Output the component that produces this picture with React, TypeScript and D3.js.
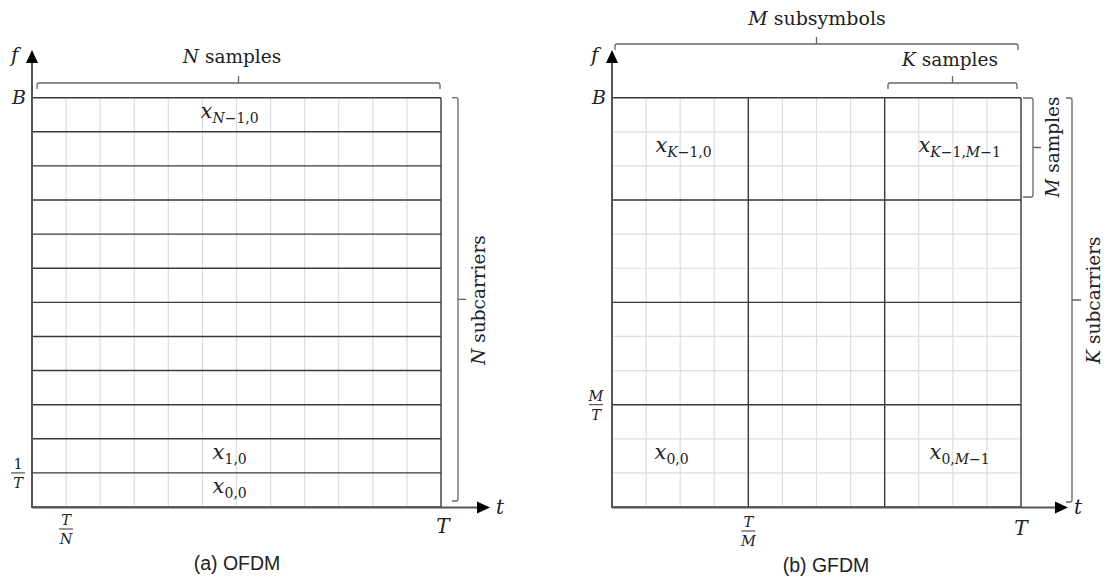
import React from 'react';
import * as d3 from 'd3';

// grid boundaries (in sample units) for both time–frequency planes
const sampleBounds = [0, 1, 2, 3, 4, 5, 6, 7, 8, 9, 10, 11, 12];
const ofdmSubcarrierBounds = [0, 1, 2, 3, 4, 5, 6, 7, 8, 9, 10, 11, 12];
const gfdmSubsymbolBounds = [0, 4, 8, 12];
const gfdmSubcarrierBounds = [0, 3, 6, 9, 12];

// cell labels: x_{sub}
const ofdmCells = [
  { col: 5.8, row: 11.5, sub: 'N−1,0' },
  { col: 5.8, row: 1.5, sub: '1,0' },
  { col: 5.8, row: 0.5, sub: '0,0' },
];
const gfdmCells = [
  { col: 2.1, row: 10.5, sub: 'K−1,0' },
  { col: 10.2, row: 10.5, sub: 'K−1,M−1' },
  { col: 1.75, row: 1.5, sub: '0,0' },
  { col: 10.2, row: 1.5, sub: '0,M−1' },
];

const W = 1113;
const H = 579;
const TOP = 97.7;
const BOTTOM = 507;
const SIZE = 409;

const serif = '"DejaVu Serif", serif';
const sans = '"Liberation Sans", Arial, sans-serif';
const dark = '#3a3a3a';
const light = '#dedede';
const braceColor = '#666';

const hBrace = (x1: number, x2: number, y: number, h = 6, tick = 7) => {
  const m = (x1 + x2) / 2;
  return `M${x1},${y + h} L${x1},${y + 2} Q${x1},${y} ${x1 + 2},${y} L${x2 - 2},${y} Q${x2},${y} ${x2},${y + 2} L${x2},${y + h} M${m},${y} L${m},${y - tick}`;
};

const vBrace = (x: number, y1: number, y2: number, w = 6, tick = 8) => {
  const m = (y1 + y2) / 2;
  return `M${x - w},${y1} L${x - 2},${y1} Q${x},${y1} ${x},${y1 + 2} L${x},${y2 - 2} Q${x},${y2} ${x - 2},${y2} L${x - w},${y2} M${x},${m} L${x + tick},${m}`;
};

// subscript with italic letters, upright digits
const Sub: React.FC<{ text: string }> = ({ text }) => (
  <>
    {text.split('').map((ch, i) => (
      <tspan key={i} fontStyle={/[A-Z]/.test(ch) ? 'italic' : 'normal'}>{ch}</tspan>
    ))}
  </>
);

const CellLabel: React.FC<{ x: number; y: number; sub: string }> = ({ x, y, sub }) => (
  <text x={x} y={y + 3} textAnchor="middle" fontFamily={serif} fill="#222">
    <tspan fontStyle="italic" fontSize={21}>x</tspan>
    <tspan fontSize={14} dy={5}><Sub text={sub} /></tspan>
  </text>
);

const Fraction: React.FC<{ x: number; y: number; num: string; den: string; numItalic?: boolean }> = ({ x, y, num, den, numItalic = true }) => (
  <g fontFamily={serif} fontSize={14.5} fill="#222" textAnchor="middle">
    <text x={x} y={y - 4} fontStyle={numItalic ? 'italic' : 'normal'}>{num}</text>
    <line x1={x - 7} x2={x + 7} y1={y} y2={y} stroke="#333" strokeWidth={1} />
    <text x={x} y={y + 15} fontStyle="italic">{den}</text>
  </g>
);

const Axes: React.FC<{ x0: number; tipX: number }> = ({ x0, tipX }) => (
  <g>
    <line x1={x0} x2={x0} y1={BOTTOM + 1} y2={62} stroke="#555" strokeWidth={2} />
    <path d={`M${x0 - 6},63 L${x0 + 6},63 L${x0},50 Z`} fill="#000" />
    <line x1={x0} x2={tipX - 12} y1={BOTTOM + 0.5} y2={BOTTOM + 0.5} stroke="#555" strokeWidth={2} />
    <path d={`M${tipX - 13},${BOTTOM - 5.5} L${tipX - 13},${BOTTOM + 6.5} L${tipX},${BOTTOM + 0.5} Z`} fill="#000" />
    <text x={x0 - 21} y={62} fontFamily={serif} fontStyle="italic" fontSize={20} fill="#222">f</text>
    <text x={tipX + 6} y={514} fontFamily={serif} fontStyle="italic" fontSize={20} fill="#222">t</text>
    <text x={x0 - 6} y={104} textAnchor="end" fontFamily={serif} fontStyle="italic" fontSize={19} fill="#222">B</text>
  </g>
);

const App: React.FC = () => {
  const xL = d3.scaleLinear().domain([0, 12]).range([32, 32 + SIZE]);
  const xR = d3.scaleLinear().domain([0, 12]).range([612, 612 + SIZE]);
  const y = d3.scaleLinear().domain([0, 12]).range([BOTTOM, TOP]);

  return (
    <svg width={W} height={H} style={{ position: 'absolute', left: 0, top: 0, background: '#fff' }}>
      {/* ---------- (a) OFDM ---------- */}
      <g>
        {sampleBounds.slice(1, -1).map(c => (
          <line key={'lv' + c} x1={xL(c)} x2={xL(c)} y1={TOP} y2={BOTTOM} stroke={light} strokeWidth={1.2} />
        ))}
        {ofdmSubcarrierBounds.map(r => (
          <line key={'dh' + r} x1={xL(0)} x2={xL(12)} y1={y(r)} y2={y(r)} stroke={dark} strokeWidth={1.4} />
        ))}
        <line x1={xL(12)} x2={xL(12)} y1={TOP} y2={BOTTOM} stroke={dark} strokeWidth={1.4} />
        {ofdmCells.map((d, i) => (
          <CellLabel key={i} x={xL(d.col)} y={y(d.row)} sub={d.sub} />
        ))}
        <Axes x0={xL(0)} tipX={490} />
        <Fraction x={18} y={y(1)} num="1" den="T" numItalic={false} />
        <Fraction x={xL(1)} y={529} num="T" den="N" />
        <text x={xL(12) + 2} y={533} textAnchor="middle" fontFamily={serif} fontStyle="italic" fontSize={20} fill="#222">T</text>

        <path d={hBrace(37, 440, 83)} fill="none" stroke={braceColor} strokeWidth={1.3} />
        <text x={232} y={63} textAnchor="middle" fontFamily={serif} fontSize={18.5} fill="#222">
          <tspan fontStyle="italic">N</tspan> samples
        </text>
        <path d={vBrace(458, TOP, 501)} fill="none" stroke={braceColor} strokeWidth={1.3} />
        <text transform={`translate(485,300) rotate(-90)`} textAnchor="middle" fontFamily={serif} fontSize={18.5} fill="#222">
          <tspan fontStyle="italic">N</tspan> subcarriers
        </text>
        <text x={237} y={570} textAnchor="middle" fontFamily={sans} fontSize={19.5} fill="#222">(a) OFDM</text>
      </g>

      {/* ---------- (b) GFDM ---------- */}
      <g>
        {sampleBounds.slice(1, -1).map(c => (
          <line key={'lv' + c} x1={xR(c)} x2={xR(c)} y1={TOP} y2={BOTTOM} stroke={light} strokeWidth={1.2} />
        ))}
        {sampleBounds.slice(1, -1).map(r => (
          <line key={'lh' + r} x1={xR(0)} x2={xR(12)} y1={y(r)} y2={y(r)} stroke={light} strokeWidth={1.2} />
        ))}
        {gfdmSubsymbolBounds.map(c => (
          <line key={'dv' + c} x1={xR(c)} x2={xR(c)} y1={TOP} y2={BOTTOM} stroke={dark} strokeWidth={1.4} />
        ))}
        {gfdmSubcarrierBounds.map(r => (
          <line key={'dh' + r} x1={xR(0)} x2={xR(12)} y1={y(r)} y2={y(r)} stroke={dark} strokeWidth={1.4} />
        ))}
        {gfdmCells.map((d, i) => (
          <CellLabel key={i} x={xR(d.col)} y={y(d.row)} sub={d.sub} />
        ))}
        <Axes x0={xR(0)} tipX={1068} />
        <Fraction x={596} y={y(3)} num="M" den="T" />
        <Fraction x={xR(4)} y={531} num="T" den="M" />
        <text x={xR(12)} y={535} textAnchor="middle" fontFamily={serif} fontStyle="italic" fontSize={20} fill="#222">T</text>

        <path d={hBrace(615, 1018, 44)} fill="none" stroke={braceColor} strokeWidth={1.3} />
        <text x={817} y={25} textAnchor="middle" fontFamily={serif} fontSize={19} fill="#222">
          <tspan fontStyle="italic">M</tspan> subsymbols
        </text>
        <path d={hBrace(888, 1017, 83)} fill="none" stroke={braceColor} strokeWidth={1.3} />
        <text x={950} y={66} textAnchor="middle" fontFamily={serif} fontSize={18.5} fill="#222">
          <tspan fontStyle="italic">K</tspan> samples
        </text>
        <path d={vBrace(1033, 98, 197, 10, 8)} fill="none" stroke={braceColor} strokeWidth={1.3} />
        <text transform={`translate(1059,147) rotate(-90)`} textAnchor="middle" fontFamily={serif} fontSize={18.5} fill="#222">
          <tspan fontStyle="italic">M</tspan> samples
        </text>
        <path d={vBrace(1072, 98, 502, 6, 9)} fill="none" stroke={braceColor} strokeWidth={1.3} />
        <text transform={`translate(1100,300) rotate(-90)`} textAnchor="middle" fontFamily={serif} fontSize={18.5} fill="#222">
          <tspan fontStyle="italic">K</tspan> subcarriers
        </text>
        <text x={826} y={572} textAnchor="middle" fontFamily={sans} fontSize={19.5} fill="#222">(b) GFDM</text>
      </g>
    </svg>
  );
};

export default App;
